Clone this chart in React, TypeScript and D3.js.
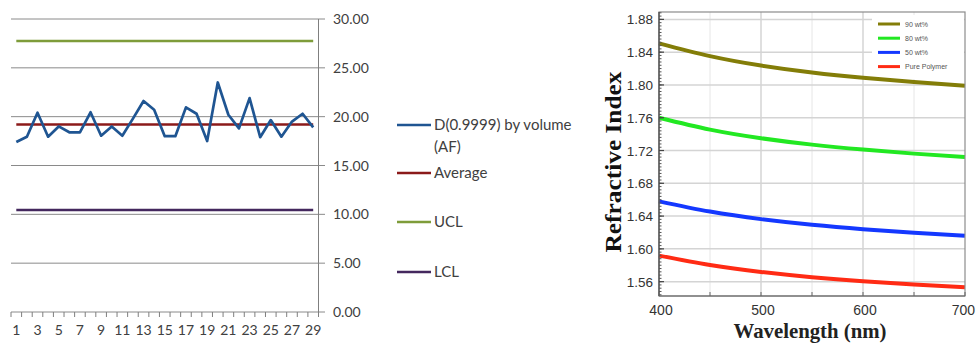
import * as d3 from "d3";

// ---- left chart: control chart ----
const sampleIds = d3.range(1, 30).map(String);
const dValues = [
  17.4, 17.95, 20.4, 17.95, 19.0, 18.4, 18.4, 20.45, 18.05, 19.0,
  18.05, 19.8, 21.6, 20.7, 18.0, 18.0, 20.95, 20.3, 17.5, 23.5,
  20.2, 18.8, 21.9, 17.9, 19.65, 17.95, 19.5, 20.3, 18.9,
];
const averageValue = 19.2;
const uclValue = 27.75;
const lclValue = 10.45;
const leftTicks = [0, 5, 10, 15, 20, 25, 30];

// ---- right chart: refractive index ----
const wavelengths = [400, 450, 500, 550, 600, 650, 700];
const ri90 = [1.8507, 1.8352, 1.8237, 1.8152, 1.8087, 1.8035, 1.799];
const ri80 = [1.76, 1.7455, 1.735, 1.7272, 1.7212, 1.7162, 1.712];
const ri50 = [1.658, 1.6455, 1.6363, 1.6294, 1.624, 1.6196, 1.616];
const riPure = [1.5918, 1.5803, 1.5718, 1.5654, 1.5604, 1.5564, 1.5532];
const riTicks = [1.56, 1.6, 1.64, 1.68, 1.72, 1.76, 1.8, 1.84, 1.88];
const wlTicks = [400, 500, 600, 700];
const wlMinor = [450, 550, 650];

const leftFont = "Lato, 'Open Sans', sans-serif";
const sansFont = "'Liberation Sans', Arial, sans-serif";
const serifFont = "'Liberation Serif', 'Times New Roman', serif";

function ControlChart() {
  const x = d3.scaleBand().domain(sampleIds).range([11, 318.5]);
  const y = d3.scaleLinear().domain([0, 30]).range([312, 19]);
  const cx = (id: string) => (x(id) ?? 0) + x.bandwidth() / 2;
  const first = cx(sampleIds[0]);
  const last = cx(sampleIds[sampleIds.length - 1]);

  const line = d3
    .line<number>()
    .x((_, i) => cx(sampleIds[i]))
    .y((d) => y(d));

  const series = [
    { label: ["D(0.9999) by volume", "(AF)"], color: "#1f5592", ly: 125 },
    { label: ["Average"], color: "#8b1a1a", ly: 173 },
    { label: ["UCL"], color: "#7e9c3a", ly: 222 },
    { label: ["LCL"], color: "#44285e", ly: 272 },
  ];

  return (
    <g>
      {leftTicks.map((t) => (
        <line key={t} x1={11} x2={325} y1={y(t)} y2={y(t)} stroke="#8a8a8a" strokeWidth={1} />
      ))}
      <line x1={318.5} x2={318.5} y1={y(30)} y2={y(0)} stroke="#7f7f7f" />
      {sampleIds.map((id) => (
        <line key={id} x1={x(id)} x2={x(id)} y1={312} y2={317} stroke="#7f7f7f" />
      ))}
      <line x1={318.5} x2={318.5} y1={312} y2={317} stroke="#7f7f7f" />
      {leftTicks.map((t) => (
        <text key={t} x={333} y={y(t) + 5} fontSize={14} fill="#404040" fontFamily={leftFont}>
          {t.toFixed(2)}
        </text>
      ))}
      {sampleIds.filter((_, i) => i % 2 === 0).map((id) => (
        <text key={id} x={cx(id)} y={335} fontSize={14} fill="#404040" textAnchor="middle" fontFamily={leftFont}>
          {id}
        </text>
      ))}
      <line x1={first} x2={last} y1={y(uclValue)} y2={y(uclValue)} stroke="#7e9c3a" strokeWidth={2.5} />
      <line x1={first} x2={last} y1={y(lclValue)} y2={y(lclValue)} stroke="#44285e" strokeWidth={2.5} />
      <line x1={first} x2={last} y1={y(averageValue)} y2={y(averageValue)} stroke="#8b1a1a" strokeWidth={2.5} />
      <path d={line(dValues) ?? ""} fill="none" stroke="#1f5592" strokeWidth={2.7} strokeLinejoin="round" />
      {series.map((s) => (
        <g key={s.label[0]}>
          <line x1={397} x2={431} y1={s.ly} y2={s.ly} stroke={s.color} strokeWidth={2.5} />
          {s.label.map((l, i) => (
            <text key={l} x={434} y={s.ly + 5 + i * 22} fontSize={15} fill="#404040" fontFamily={leftFont}>
              {l}
            </text>
          ))}
        </g>
      ))}
    </g>
  );
}

function RefractiveChart() {
  const left = 659;
  const right = 965;
  const top = 12;
  const bottom = 296;
  const x = d3.scaleLinear().domain([400, 700]).range([left, right]);
  const y = d3.scaleLinear().domain([1.5425, 1.889]).range([bottom, top]);
  const line = d3
    .line<number>()
    .x((_, i) => x(wavelengths[i]))
    .y((d) => y(d))
    .curve(d3.curveNatural);

  const series = [
    { name: "90 wt%", values: ri90, color: "#837d08" },
    { name: "80 wt%", values: ri80, color: "#22e822" },
    { name: "50 wt%", values: ri50, color: "#1438ff" },
    { name: "Pure Polymer", values: riPure, color: "#ff2b14" },
  ];
  const minorY = d3.range(1.544, 1.889, 0.004);

  return (
    <g>
      {wlMinor.map((w) => (
        <line key={w} x1={x(w)} x2={x(w)} y1={top} y2={bottom} stroke="#e6e6e6" strokeWidth={1} />
      ))}
      {wlTicks.slice(1, 3).map((w) => (
        <line key={w} x1={x(w)} x2={x(w)} y1={top} y2={bottom} stroke="#d4d4d4" strokeWidth={1.5} />
      ))}
      {riTicks.map((t) => (
        <line key={t} x1={left} x2={right} y1={y(t)} y2={y(t)} stroke="#d4d4d4" strokeWidth={1.5} />
      ))}
      <rect x={872} y={15} width={92} height={64} fill="#ffffff" />
      {series.map((s) => (
        <path key={s.name} d={line(s.values) ?? ""} fill="none" stroke={s.color} strokeWidth={4} />
      ))}
      <rect x={left} y={top} width={right - left} height={bottom - top} fill="none" stroke="#8c8c8c" strokeWidth={1.2} />
      <line x1={left} x2={left} y1={top} y2={bottom} stroke="#444" strokeWidth={1.2} />
      <line x1={left} x2={right} y1={bottom} y2={bottom} stroke="#666" strokeWidth={1.2} />
      {minorY.map((t) => (
        <line key={t} x1={left} x2={left + 2.5} y1={y(t)} y2={y(t)} stroke="#555" strokeWidth={1} />
      ))}
      {riTicks.map((t) => (
        <line key={t} x1={left} x2={left + 5} y1={y(t)} y2={y(t)} stroke="#444" strokeWidth={1.2} />
      ))}
      {wlMinor.concat(wlTicks).map((w) => (
        <line key={w} x1={x(w)} x2={x(w)} y1={bottom} y2={bottom - 4} stroke="#666" strokeWidth={1} />
      ))}
      {riTicks.map((t) => (
        <text key={t} x={653} y={y(t) + 5} fontSize={13.5} fill="#333" textAnchor="end" fontFamily={sansFont}>
          {t.toFixed(2)}
        </text>
      ))}
      {wlTicks.map((w, i) => (
        <text
          key={w}
          x={i === wlTicks.length - 1 ? 975 : x(w) + 2}
          y={315}
          fontSize={14}
          fill="#333"
          textAnchor={i === wlTicks.length - 1 ? "end" : "middle"}
          fontFamily={sansFont}
        >
          {w}
        </text>
      ))}
      {series.map((s, i) => (
        <g key={s.name}>
          <line x1={878} x2={900} y1={24 + i * 14.2} y2={24 + i * 14.2} stroke={s.color} strokeWidth={3} />
          <text x={905} y={24 + i * 14.2 + 2.5} fontSize={7} fill="#555" fontFamily={sansFont}>
            {s.name}
          </text>
        </g>
      ))}
      <text
        transform="translate(621,162) rotate(-90)"
        textAnchor="middle"
        fontSize={24}
        fontWeight="bold"
        fill="#111"
        fontFamily={serifFont}
        textLength={181}
        lengthAdjust="spacingAndGlyphs"
      >
        Refractive Index
      </text>
      <text
        x={810}
        y={338}
        textAnchor="middle"
        fontSize={21}
        fontWeight="bold"
        fill="#222"
        fontFamily={serifFont}
        textLength={153}
        lengthAdjust="spacingAndGlyphs"
      >
        Wavelength (nm)
      </text>
    </g>
  );
}

export default function App() {
  return (
    <svg
      width={976}
      height={343}
      style={{ position: "absolute", left: 0, top: 0, display: "block", background: "#fff" }}
    >
      <ControlChart />
      <RefractiveChart />
    </svg>
  );
}
